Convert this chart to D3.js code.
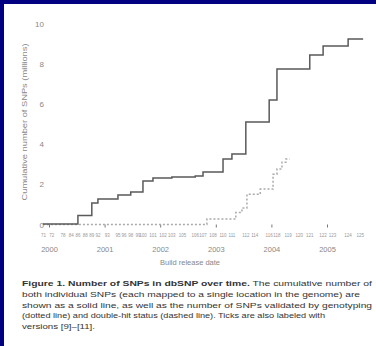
<!DOCTYPE html>
<html>
<head>
<meta charset="utf-8">
<script src="https://cdn.jsdelivr.net/npm/d3@7"></script>
<style>
  body { margin: 0; background: #fff; }
  svg { display: block; font-family: "Liberation Sans", Arial, sans-serif; }
</style>
</head>
<body>
<script>
// cumulative SNP counts (millions) at each build release, decimal years
var solidYears  = [1999.89, 2000.52, 2000.77, 2000.88, 2001.24, 2001.47, 2001.69, 2001.87, 2002.21, 2002.63, 2002.77, 2003.13, 2003.29, 2003.54, 2003.96, 2004.10, 2004.69, 2004.93, 2005.38, 2005.65];
var solidValues = [0.03, 0.45, 1.07, 1.27, 1.47, 1.62, 2.16, 2.31, 2.36, 2.41, 2.61, 3.26, 3.51, 5.10, 6.20, 7.74, 8.43, 8.88, 9.23, 9.23];

// validated SNPs (dotted)
var validYears  = [1999.89, 2002.84, 2003.36, 2003.47, 2003.56, 2003.80, 2004.03, 2004.10, 2004.19, 2004.26, 2004.33];
var validValues = [0.0, 0.27, 0.60, 0.82, 1.50, 1.76, 2.50, 2.76, 3.10, 3.26, 3.26];

// build numbers printed under the axis
var buildYears  = [1999.9, 2000.05, 2000.25, 2000.4, 2000.52, 2000.65, 2000.77, 2000.88, 2001.05, 2001.24, 2001.35, 2001.47, 2001.6, 2001.69, 2001.87, 2002.05, 2002.21, 2002.4, 2002.63, 2002.77, 2002.95, 2003.13, 2003.29, 2003.54, 2003.7, 2003.96, 2004.1, 2004.3, 2004.5, 2004.69, 2004.93, 2005.1, 2005.38, 2005.6];
var buildLabels = ["71", "72", "78", "84", "86", "88", "89", "92", "93", "95", "96", "98", "99", "100", "101", "102", "103", "105", "106", "107", "108", "110", "111", "112", "114", "116", "118", "119", "120", "121", "122", "123", "124", "125"];

var yearTicks = [2000, 2001, 2002, 2003, 2004, 2005];
var yTicks = [0, 2, 4, 6, 8, 10];

var captionLines = [
  ["Figure 1. Number of SNPs in dbSNP over time.", " The cumulative number of"],
  ["", "both individual SNPs (each mapped to a single location in the genome) are"],
  ["", "shown as a solid line, as well as the number of SNPs validated by genotyping"],
  ["", "(dotted line) and double-hit status (dashed line). Ticks are also labeled with"],
  ["", "versions [9]\u2013[11]."]
];
var captionWidths = [350, 338, 350, 303, 73];

var width = 376;
var height = 346;

var svg = d3.select("body").append("svg")
  .attr("width", width)
  .attr("height", height);

svg.append("rect").attr("width", width).attr("height", height).attr("fill", "#fff");
// navy frame on top and left
svg.append("rect").attr("width", width).attr("height", 4).attr("fill", "#000080");
svg.append("rect").attr("width", 4).attr("height", height).attr("fill", "#000080");

var x = d3.scaleLinear().domain([2000, 2005]).range([49, 327]);
var y = d3.scaleLinear().domain([0, 10]).range([224.5, 23.5]);

// y axis: labels only
var yAxis = svg.append("g")
  .attr("transform", "translate(48,0)")
  .call(d3.axisLeft(y).tickValues(yTicks).tickSize(0).tickPadding(4));
yAxis.select(".domain").remove();
yAxis.selectAll("text").attr("fill", "#888").attr("font-size", 8);

svg.append("text")
  .attr("transform", "translate(27,122) rotate(-90)")
  .attr("text-anchor", "middle")
  .attr("font-size", 7.5)
  .attr("fill", "#888")
  .attr("textLength", 157)
  .attr("lengthAdjust", "spacingAndGlyphs")
  .text("Cumulative number of SNPs (millions)");

// x axis: short ticks and year labels
var xAxis = svg.append("g")
  .attr("transform", "translate(0,224.5)")
  .call(d3.axisBottom(x).tickValues(yearTicks).tickFormat(d3.format("d")).tickSize(3).tickPadding(19));
xAxis.select(".domain").remove();
xAxis.selectAll("line").attr("stroke", "#777");
xAxis.selectAll("text").attr("fill", "#888").attr("font-size", 7.5);

// build numbers row
svg.append("g").selectAll("text")
  .data(buildLabels)
  .enter().append("text")
  .attr("x", function(d, i) { return x(buildYears[i]); })
  .attr("y", 237)
  .attr("text-anchor", "middle")
  .attr("font-size", 4.5)
  .attr("fill", "#999")
  .text(function(d) { return d; });

svg.append("text")
  .attr("x", 190)
  .attr("y", 265)
  .attr("text-anchor", "middle")
  .attr("font-size", 7.5)
  .attr("fill", "#888")
  .text("Build release date");

var line = d3.line()
  .x(function(d) { return x(d[0]); })
  .y(function(d) { return y(d[1]); })
  .curve(d3.curveStepAfter);

var validData = validYears.map(function(v, i) { return [v, validValues[i]]; });
svg.append("path")
  .datum(validData)
  .attr("d", line)
  .attr("fill", "none")
  .attr("stroke", "#aaa")
  .attr("stroke-width", 1.5)
  .attr("stroke-dasharray", "2,2");

var solidData = solidYears.map(function(v, i) { return [v, solidValues[i]]; });
svg.append("path")
  .datum(solidData)
  .attr("d", line)
  .attr("fill", "none")
  .attr("stroke", "#5a5a5a")
  .attr("stroke-width", 1.5);

// caption
var cap = svg.append("g");
captionLines.forEach(function(parts, i) {
  var t = cap.append("text")
    .attr("x", 22)
    .attr("y", 286 + i * 10.8)
    .attr("font-size", 8)
    .attr("fill", "#333")
    .attr("textLength", captionWidths[i])
    .attr("lengthAdjust", "spacingAndGlyphs");
  if (parts[0]) t.append("tspan").attr("font-weight", "bold").text(parts[0]);
  t.append("tspan").text(parts[1]);
});
</script>
</body>
</html>
